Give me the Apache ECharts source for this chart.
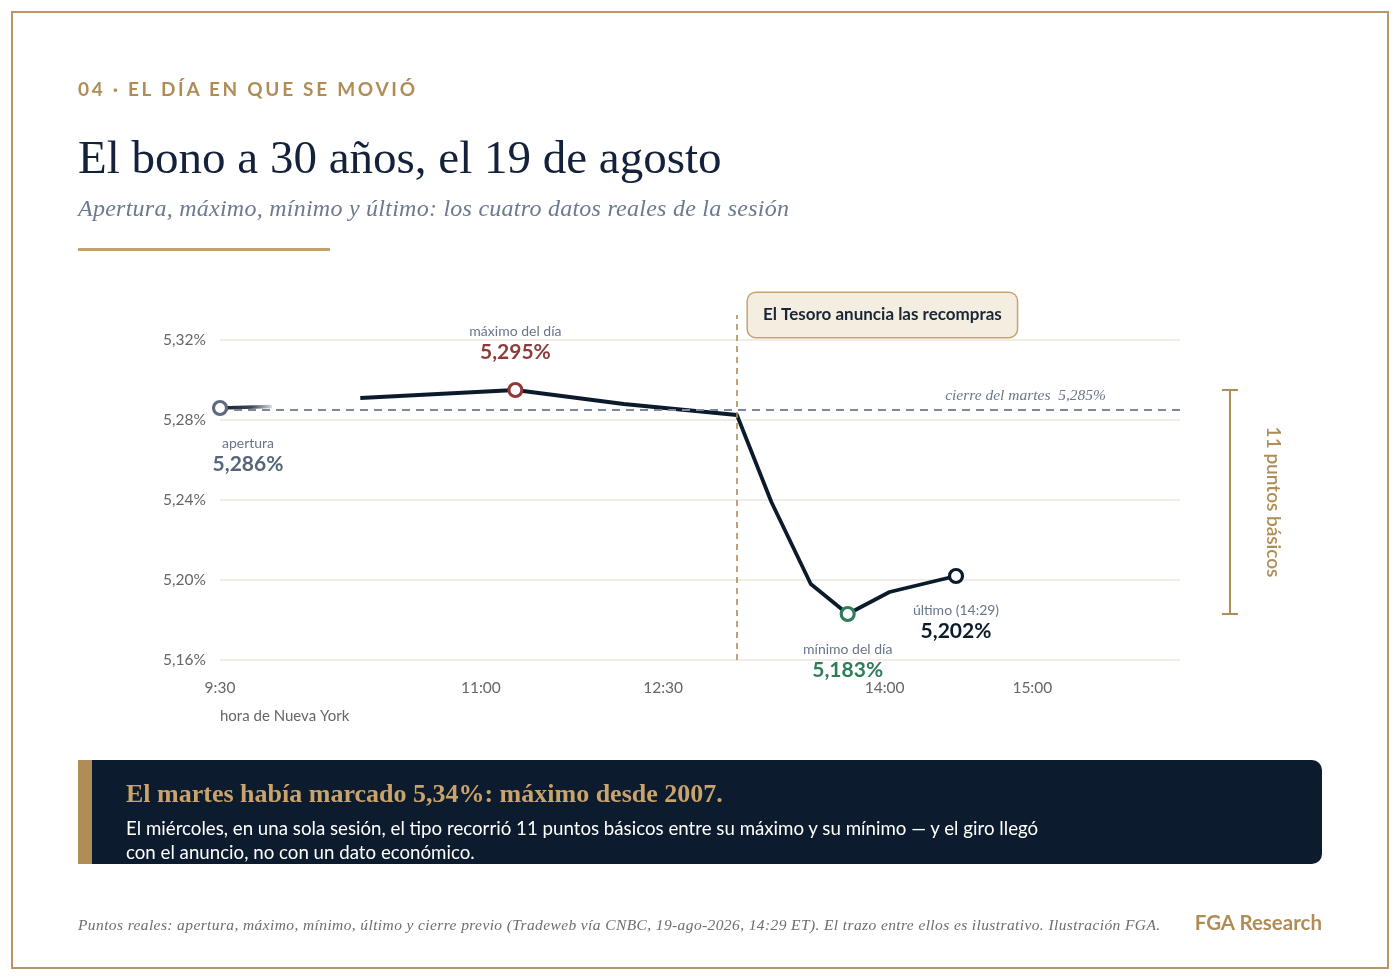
<!DOCTYPE html>
<html><head><meta charset="utf-8">
<script src="https://cdn.jsdelivr.net/npm/echarts@6/dist/echarts.min.js"></script>
<style>
html,body{margin:0;padding:0}
body{width:1400px;height:980px;background:#fff;position:relative;overflow:hidden;font-family:Lato,sans-serif}
#chart{position:absolute;left:0;top:0;width:1400px;height:980px}
.frame{position:absolute;left:11px;top:11px;width:1374px;height:954px;border:2px solid #b8956a;pointer-events:none}
.kicker{position:absolute;left:78px;top:77px;line-height:24px;font-size:19px;font-weight:700;letter-spacing:2.7px;color:#b08d57}
.title{position:absolute;left:78px;top:129px;line-height:56px;font-family:"Liberation Serif",serif;font-size:47px;color:#13213a}
.sub{position:absolute;left:78px;top:194px;line-height:28px;font-family:"Liberation Serif",serif;font-style:italic;font-size:24px;letter-spacing:0.25px;color:#6b7a90}
.rule{position:absolute;left:78px;top:248px;width:252px;height:3px;background:#c4a06a}
.box{position:absolute;left:78px;top:760px;width:1230px;height:104px;background:#0c1b2e;border-left:14px solid #b08d57;border-radius:0 10px 10px 0}
.box h3{position:absolute;left:34px;top:19px;margin:0;line-height:30px;font-family:"Liberation Serif",serif;font-weight:700;font-size:26px;color:#c9a36a}
.box p{position:absolute;left:34px;top:56px;margin:0;line-height:24px;font-size:18.7px;color:#fff;white-space:nowrap}
.foot{position:absolute;left:78px;top:914px;line-height:22px;font-family:"Liberation Serif",serif;font-style:italic;font-size:15.5px;letter-spacing:0.39px;color:#6e6e6e}
.brand{position:absolute;right:78px;top:909px;line-height:26px;font-size:20.5px;font-weight:700;color:#b08d57}
</style></head>
<body>
<div id="chart"></div>
<div class="frame"></div>
<div class="kicker">04 · EL DÍA EN QUE SE MOVIÓ</div>
<div class="title">El bono a 30 años, el 19 de agosto</div>
<div class="sub">Apertura, máximo, mínimo y último: los cuatro datos reales de la sesión</div>
<div class="rule"></div>
<div class="box">
<h3>El martes había marcado 5,34%: máximo desde 2007.</h3>
<p>El miércoles, en una sola sesión, el tipo recorrió 11 puntos básicos entre su máximo y su mínimo — y el giro llegó<br>con el anuncio, no con un dato económico.</p>
</div>
<div class="foot">Puntos reales: apertura, máximo, mínimo, último y cierre previo (Tradeweb vía CNBC, 19-ago-2026, 14:29 ET). El trazo entre ellos es ilustrativo. Ilustración FGA.</div>
<div class="brand">FGA Research</div>
<script>
// ---- data ----
const xTickLabels = ['9:30', '11:00', '12:30', '14:00', '15:00'];
const xTickTimes = ['9:30', '11:16', '12:30', '14:00', '15:00'];
const yTicks = [5.16, 5.20, 5.24, 5.28, 5.32];
const openPieceTimes = ['9:30', '9:51'];
const openPieceValues = [5.286, 5.2868];
const pathTimes = ['10:27', '11:30', '12:14', '13:00', '13:14', '13:30', '13:45', '14:02', '14:29'];
const pathValues = [5.291, 5.295, 5.288, 5.2825, 5.239, 5.198, 5.183, 5.194, 5.202];
const keyNames = ['apertura', 'máximo del día', 'mínimo del día', 'último (14:29)'];
const keyTimes = ['9:30', '11:30', '13:45', '14:29'];
const keyValues = [5.286, 5.295, 5.183, 5.202];
const prevClose = 5.285;
const eventTime = '13:00';
const eventLabel = 'El Tesoro anuncia las recompras';

// ---- helpers ----
function mins(t) { const p = t.split(':').map(Number); return p[0] * 60 + p[1] - 570; }
function pct(v, d) { return v.toFixed(d).replace('.', ',') + '%'; }
const yMin = 5.16, yMax = 5.3325;
const keyColors = ['#5e6b7e', '#8e3b3b', '#2f7d5a', '#0c1b2b'];
const valColors = ['#56657a', '#8e3b3b', '#2f7d5a', '#0c1b2b'];
const keyLabelPos = [
  { position: 'bottom', distance: 18, offset: [28, 0] },
  { position: 'top', distance: 19, offset: [0, 0] },
  { position: 'bottom', distance: 18, offset: [0, 0] },
  { position: 'bottom', distance: 17, offset: [0, 0] }
];
const tickMap = {};
xTickTimes.forEach((t, i) => { tickMap[mins(t)] = xTickLabels[i]; });

const chart = echarts.init(document.getElementById('chart'), null, { renderer: 'canvas' });
const valStyle = c => ({ fontFamily: 'Lato', fontSize: 21, fontWeight: 700, color: c, lineHeight: 22, align: 'center' });
const option = {
  animation: false,
  grid: { left: 220, right: 220, top: 315, bottom: 320 },
  xAxis: {
    type: 'value', min: 0, max: 390,
    axisLine: { show: false }, axisTick: { show: false }, splitLine: { show: false },
    axisLabel: {
      customValues: xTickTimes.map(mins),
      formatter: v => tickMap[v] || '',
      color: '#666', fontSize: 15.5, fontFamily: 'Lato', margin: 20
    }
  },
  yAxis: {
    type: 'value', min: yMin, max: yMax, interval: 0.04,
    axisLine: { show: false }, axisTick: { show: false },
    splitLine: { show: true, showMaxLine: false, lineStyle: { color: '#f1ece6', width: 2 } },
    axisLabel: {
      showMaxLabel: false,
      formatter: v => (yTicks.some(t => Math.abs(t - v) < 1e-6) ? pct(v, 2) : ''),
      color: '#666', fontSize: 15.5, fontFamily: 'Lato', margin: 14
    }
  },
  series: [
    {
      type: 'line', silent: true, symbol: 'none', z: 2,
      data: [],
      markLine: {
        silent: true, symbol: 'none', precision: 5,
        data: [
          {
            yAxis: prevClose,
            lineStyle: { color: '#7d889a', width: 2, type: [8, 6] },
            label: {
              show: true, position: 'insideEndTop', formatter: 'cierre del martes  ' + pct(prevClose, 3),
              fontFamily: 'Liberation Serif', fontStyle: 'italic', fontSize: 15.5, color: '#6b7589',
              padding: [0, 68, 0, 0], distance: 6
            }
          },
          [
            { coord: [mins(eventTime), yMin], lineStyle: { color: '#b08d57', width: 1.6, type: [6, 5] }, label: { show: false } },
            { coord: [mins(eventTime), yMax] }
          ]
        ]
      },
      markPoint: {
        silent: true, symbol: 'circle', symbolSize: 0,
        data: [{
          coord: [mins(eventTime), yMax],
          label: {
            show: true, position: 'right', distance: 11, formatter: eventLabel,
            fontFamily: 'Lato', fontWeight: 'bold', fontSize: 17, color: '#1a2535', lineHeight: 18,
            backgroundColor: '#f4eee1', borderColor: '#c7a46c', borderWidth: 1.5, borderRadius: 8,
            padding: [13, 15, 13, 15]
          }
        }]
      }
    },
    {
      type: 'line', silent: true, symbol: 'none', z: 3,
      data: openPieceTimes.map((t, i) => [mins(t), openPieceValues[i]]),
      lineStyle: {
        width: 3.5,
        color: new echarts.graphic.LinearGradient(0, 0, 1, 0, [
          { offset: 0, color: 'rgba(12,27,43,1)' },
          { offset: 0.6, color: 'rgba(12,27,43,0.8)' },
          { offset: 1, color: 'rgba(12,27,43,0.1)' }
        ])
      }
    },
    {
      type: 'line', silent: true, symbol: 'none', z: 3,
      data: pathTimes.map((t, i) => [mins(t), pathValues[i]]),
      lineStyle: { color: '#0c1b2b', width: 3.8, join: 'round' }
    },
    {
      type: 'scatter', silent: true, z: 5,
      symbol: 'circle', symbolSize: 13,
      itemStyle: { opacity: 1 },
      data: keyTimes.map((t, i) => ({
        value: [mins(t), keyValues[i]],
        itemStyle: { color: '#fff', borderColor: keyColors[i], borderWidth: 3.2, opacity: 1 },
        label: Object.assign({
          show: true,
          formatter: '{a|' + keyNames[i] + '}\n{b' + i + '|' + pct(keyValues[i], 3) + '}',
          rich: {
            a: { fontFamily: 'Lato', fontSize: 14, color: '#68758a', lineHeight: 19, align: 'center' },
            b0: valStyle(valColors[0]),
            b1: valStyle(valColors[1]),
            b2: valStyle(valColors[2]),
            b3: valStyle(valColors[3])
          }
        }, keyLabelPos[i])
      }))
    }
  ]
};
chart.setOption(option);

// bracket spanning the day's range, positioned through the y scale
const hi = Math.max.apply(null, keyValues), lo = Math.min.apply(null, keyValues);
const yTop = chart.convertToPixel({ yAxisIndex: 0 }, hi);
const yBot = chart.convertToPixel({ yAxisIndex: 0 }, lo);
const bp = Math.round((hi - lo) * 100);
const bx = 1230;
chart.setOption({
  graphic: [
    { type: 'line', shape: { x1: bx, y1: yTop, x2: bx, y2: yBot }, style: { stroke: '#b08d57', lineWidth: 2 }, silent: true },
    { type: 'line', shape: { x1: bx - 8, y1: yTop, x2: bx + 8, y2: yTop }, style: { stroke: '#b08d57', lineWidth: 2 }, silent: true },
    { type: 'line', shape: { x1: bx - 8, y1: yBot, x2: bx + 8, y2: yBot }, style: { stroke: '#b08d57', lineWidth: 2 }, silent: true },
    {
      type: 'text', x: bx + 43, y: (yTop + yBot) / 2, rotation: -Math.PI / 2, silent: true,
      style: { text: bp + ' puntos básicos', fill: '#b08d57', font: '600 19px Lato', textAlign: 'center', textVerticalAlign: 'middle' }
    },
    {
      type: 'text', x: 220, y: 716, silent: true,
      style: { text: 'hora de Nueva York', fill: '#666', font: '15px Lato', textAlign: 'left', textVerticalAlign: 'middle' }
    }
  ]
});
</script>
</body></html>
